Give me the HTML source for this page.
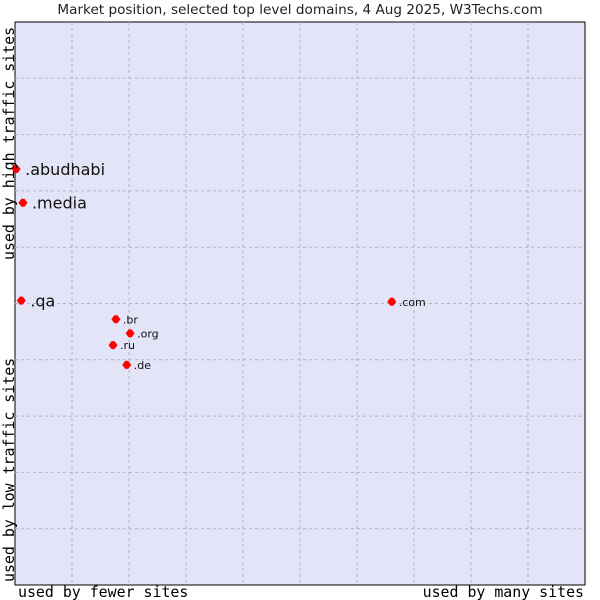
<!DOCTYPE html>
<html><head><meta charset="utf-8"><style>
body{margin:0;background:#fff;}
svg{display:block;}
</style></head><body>
<svg width="600" height="600" xmlns="http://www.w3.org/2000/svg">
<text x="300" y="14" text-anchor="middle" font-family="DejaVu Sans, sans-serif" font-size="13.6" fill="#222">Market position, selected top level domains, 4 Aug 2025, W3Techs.com</text>
<rect x="15" y="22" width="570" height="563" fill="#e3e4f8" stroke="#000" stroke-width="1"/>
<g id="grid"></g>
<g id="pts"></g>
<text x="18" y="597" font-family="DejaVu Sans Mono, monospace" font-size="14.9" fill="#000">used by fewer sites</text>
<text x="584" y="597" text-anchor="end" font-family="DejaVu Sans Mono, monospace" font-size="14.9" fill="#000">used by many sites</text>
<text transform="translate(14,582) rotate(-90)" font-family="DejaVu Sans Mono, monospace" font-size="14.9" fill="#000">used by low traffic sites</text>
<text transform="translate(14,260) rotate(-90)" font-family="DejaVu Sans Mono, monospace" font-size="14.9" fill="#000">used by high traffic sites</text>
</svg>
<script>
const names=[".abudhabi",".media",".qa",".com",".br",".org",".ru",".de"];
const xVals=[0.2,1.4,1.1,66.1,17.7,20.2,17.2,19.6];
const yVals=[73.9,67.9,50.5,50.3,47.2,44.7,42.6,39.1];
const bigLabel=[true,true,true,false,false,false,false,false];
const NS="http://www.w3.org/2000/svg";
const X0=15,X1=585,Y0=585,Y1=22;
function sx(v){return X0+(X1-X0)*v/100;}
function sy(v){return Y0-(Y0-Y1)*v/100;}
const grid=document.getElementById('grid');
for(let i=1;i<10;i++){
  const v=document.createElementNS(NS,'line');
  
  
  v.setAttribute('x1',sx(i*10));v.setAttribute('x2',sx(i*10));v.setAttribute('y1',Y1);v.setAttribute('y2',Y0);
  v.setAttribute('stroke','#b4b4b8');v.setAttribute('stroke-dasharray','3,3');
  grid.appendChild(v);
  const h=document.createElementNS(NS,'line');
  
  
  h.setAttribute('x1',X0);h.setAttribute('x2',X1);h.setAttribute('y1',sy(i*10));h.setAttribute('y2',sy(i*10));
  h.setAttribute('stroke','#b4b4b8');h.setAttribute('stroke-dasharray','3,3');
  grid.appendChild(h);
}
const pts=document.getElementById('pts');
names.forEach((n,i)=>{
  const x=sx(xVals[i]),y=sy(yVals[i]);
  const d=document.createElementNS(NS,'polygon');
  
  
  d.setAttribute('points',`${x-4.5},${y} ${x-1.5},${y-4} ${x+1.5},${y-4} ${x+4.5},${y} ${x+1.5},${y+4} ${x-1.5},${y+4}`);
  d.setAttribute('fill','#f00');
  pts.appendChild(d);
  const t=document.createElementNS(NS,'text');
  
  
  t.setAttribute('x',x+(bigLabel[i]?9:7));
  t.setAttribute('y',y+(bigLabel[i]?6:4));
  t.setAttribute('font-family','DejaVu Sans, sans-serif');
  t.setAttribute('font-size',bigLabel[i]?'16':'11');
  t.setAttribute('fill','#111');
  t.textContent=n;
  pts.appendChild(t);
});
</script>
</body></html>
